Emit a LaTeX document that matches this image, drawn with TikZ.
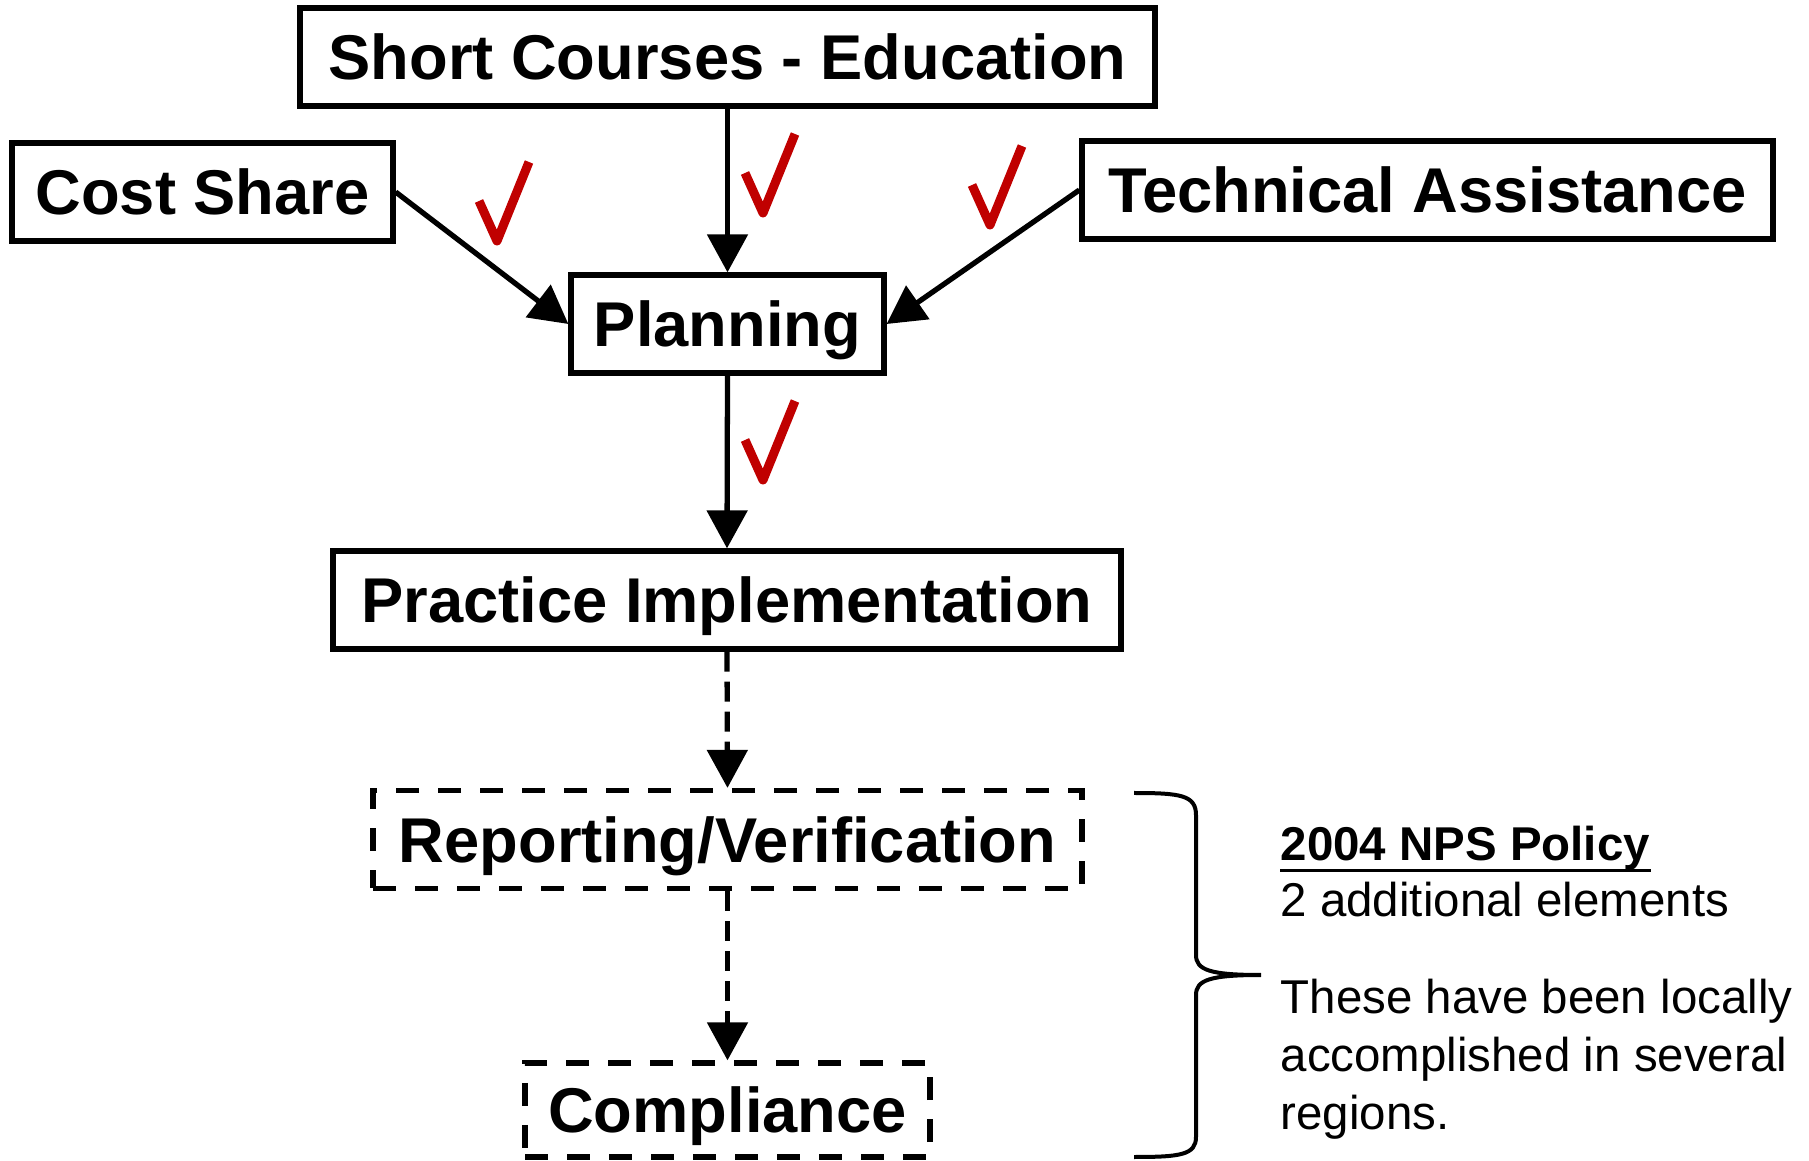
\documentclass[tikz,border=0pt]{standalone}
\usepackage{fontspec}
\setmainfont{Liberation Sans}
\usetikzlibrary{arrows.meta}
\definecolor{tickred}{RGB}{192, 0, 0}

\tikzset{
  stagebox/.style={draw, line width=1.5pt, minimum height=0.98cm, inner sep=0pt,
    font=\bfseries\fontsize{18}{22}\selectfont, text height=13pt, text depth=0pt},
  policybox/.style={stagebox, dash pattern=on 0.23cm off 0.19cm},
  flow/.style={line width=1.5pt, -{Triangle[length=0.38cm, width=0.40cm]}},
  policyflow/.style={flow, dash pattern=on 0.2cm off 0.1cm},
  redtick/.style={tickred, line width=0.09cm, line join=round},
  notefont/.style={font=\fontsize{13.5}{16.6}\selectfont}
}

\begin{document}
\begin{tikzpicture}
  \useasboundingbox (0,0) rectangle (18.09,-11.61);

  % Program elements
  \node[stagebox, minimum width=8.55cm] (sc) at (7.275,-0.57) {Short Courses - Education};
  \node[stagebox, minimum width=3.81cm] (cs) at (2.025,-1.92) {Cost Share};
  \node[stagebox, minimum width=6.91cm] (ta) at (14.275,-1.90) {Technical Assistance};
  \node[stagebox, minimum width=3.13cm] (plan) at (7.275,-3.24) {Planning};
  \node[stagebox, minimum width=7.88cm] (pi) at (7.27,-6.00) {Practice Implementation};

  % Elements added by the policy
  \node[policybox, minimum width=7.09cm] (rv) at (7.275,-8.395) {Reporting/Verification};
  \node[policybox, minimum width=4.05cm, minimum height=0.94cm] (comp) at (7.275,-11.10) {Compliance};

  % Connectors
  \draw[flow] (sc.south) -- (plan.north);
  \draw[flow] (cs.east) -- (plan.west);
  \draw[flow] (ta.west) -- (plan.east);
  \draw[flow] (plan.south) -- (pi.north);
  \draw[policyflow] (pi.south) -- (rv.north);
  \draw[policyflow] (rv.south) -- (comp.north);

  % Check marks
  \foreach \x/\y in {4.97/-2.41, 7.63/-2.13, 9.90/-2.25, 7.63/-4.80}
    \draw[redtick] ([shift={(-0.18,0.40)}]\x,\y) -- (\x,\y) -- ++(0.32,0.79);

  % Brace
  \coordinate (btop) at (11.34,-7.93);
  \coordinate (bbot) at (11.34,-11.57);
  \coordinate (btip) at (12.61,-9.75);
  \draw[line width=0.04cm] (btop) .. controls (11.80,-7.93) and (11.96,-7.95) .. (11.96,-8.15)
    -- (11.96,-9.55) .. controls (11.96,-9.70) and (12.10,-9.75) .. (btip)
    .. controls (12.10,-9.75) and (11.96,-9.80) .. (11.96,-9.95)
    -- (11.96,-11.37) .. controls (11.96,-11.55) and (11.80,-11.57) .. (bbot);

  % Policy note
  \node[anchor=base west, inner sep=0pt, font=\bfseries\fontsize{13.5}{16.6}\selectfont] (pol) at (12.80,-8.60) {2004 NPS Policy};
  \draw[line width=1pt] (pol.south west) -- (pol.south east);
  \node[anchor=base west, inner sep=0pt, notefont] (elem) at (12.80,-9.17) {2 additional elements};
  \node[anchor=north west, inner sep=0pt, align=left, notefont] (note) at (12.80,-9.78)
    {These have been locally\\accomplished in several\\regions.};
\end{tikzpicture}
\end{document}
